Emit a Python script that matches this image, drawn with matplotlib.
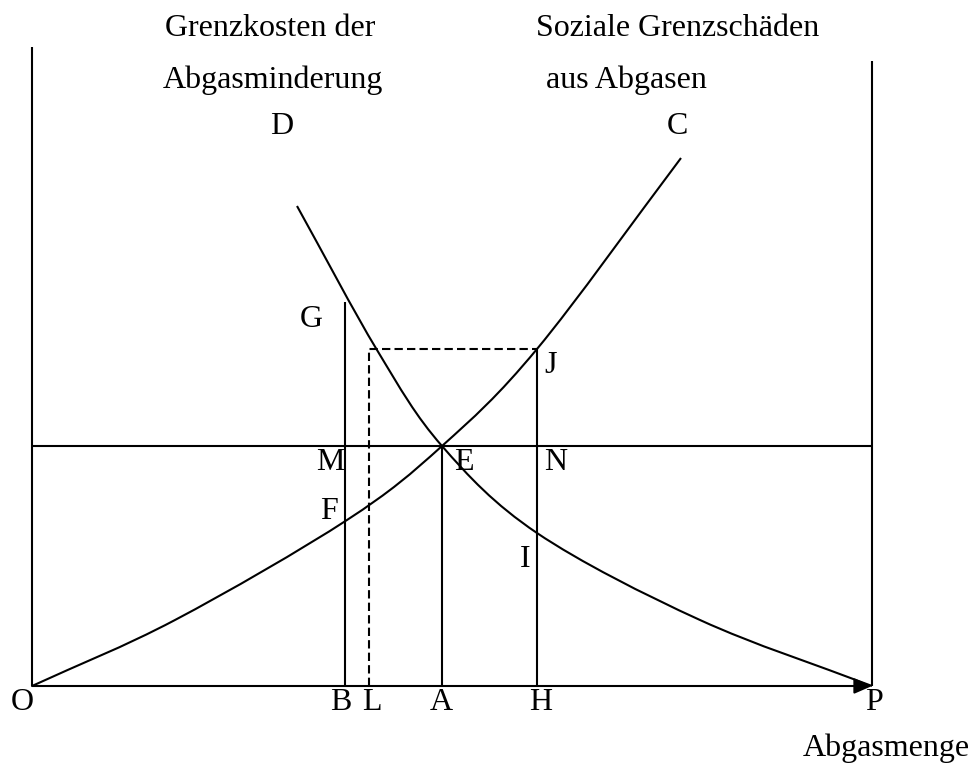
import numpy as np
import matplotlib
matplotlib.use("Agg")
import matplotlib.pyplot as plt
from matplotlib.path import Path
from matplotlib.patches import PathPatch

# curve points (origin at O, 1 unit = 1 px)
cost_x = [265, 345, 410, 505, 668, 840]
cost_y = [480, 336, 240, 153, 66, 0]
damage_x = [0, 143, 315, 410, 505, 649]
damage_y = [0, 66, 166, 240, 337, 528]

# key levels
x_B, x_L, x_A, x_H, x_P = 313, 337, 410, 505, 840
y_E = 240          # horizontal line through E
y_G = 384          # top of the line at B
y_J = 337          # level of dashed line / J
y_left_top = 639
y_right_top = 625


def smooth_path(xs, ys):
    # catmull-rom through the read points, drawn as bezier segments
    pts = np.column_stack([xs, ys]).astype(float)
    verts = [pts[0]]
    codes = [Path.MOVETO]
    n = len(pts)
    for i in range(n - 1):
        p0 = pts[i - 1] if i > 0 else 2 * pts[i] - pts[i + 1]
        p1, p2 = pts[i], pts[i + 1]
        p3 = pts[i + 2] if i + 2 < n else 2 * pts[i + 1] - pts[i]
        verts += [p1 + (p2 - p0) / 6, p2 - (p3 - p1) / 6, p2]
        codes += [Path.CURVE4] * 3
    return Path(verts, codes)


fig = plt.figure(figsize=(9.78, 7.65), dpi=100)
ax = fig.add_axes([0, 0, 1, 1])
ax.set_xlim(-32, 946)
ax.set_ylim(-79, 686)
ax.axis("off")

lw = 1.5
k = dict(color="black", lw=lw, solid_capstyle="butt")

# frame lines
ax.plot([0, 0], [0, y_left_top], **k)
ax.plot([x_P, x_P], [0, y_right_top], **k)
ax.plot([0, x_P], [y_E, y_E], **k)
ax.annotate("", xy=(x_P, 0), xytext=(0, 0),
            arrowprops=dict(arrowstyle="-|>,head_length=1.08,head_width=0.47",
                            mutation_scale=10, color="black", lw=lw,
                            shrinkA=0, shrinkB=0))

# verticals
ax.plot([x_B, x_B], [0, y_G], **k)
ax.plot([x_A, x_A], [0, y_E], **k)
ax.plot([x_H, x_H], [0, y_J], **k)
ax.plot([x_L, x_L, x_H], [0, y_J, y_J], color="black", lw=lw,
        linestyle=(0, (4, 2)))

# curves
for xs, ys in [(cost_x, cost_y), (damage_x, damage_y)]:
    ax.add_patch(PathPatch(smooth_path(xs, ys), fill=False,
                           edgecolor="black", lw=lw))

font = dict(family=["Liberation Serif", "DejaVu Serif"], size=23,
            ha="center", va="baseline", color="black")


def label(txt, px, py):
    ax.text(px - 32, 686 - py, txt, **font)


label("Grenzkosten der", 270, 36)
label("Abgasminderung", 273, 88)
label("Soziale Grenzschäden", 678, 36)
label("aus Abgasen", 626, 88)
label("D", 282, 134)
label("C", 677, 134)
label("G", 311, 327)
label("J", 551, 373)
label("M", 330, 470)
label("E", 464, 470)
label("N", 556, 470)
label("F", 329, 519)
label("I", 525, 567)
for t, px in zip(["O", "B", "L", "A", "H", "P"], [22, 341, 372, 441, 541, 874]):
    label(t, px, 710)
label("Abgasmenge", 886, 756)

fig.savefig("out.png", dpi=100, facecolor="white")
